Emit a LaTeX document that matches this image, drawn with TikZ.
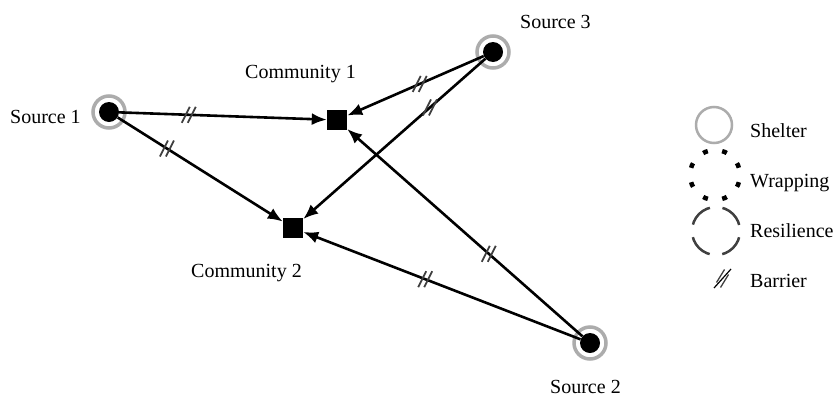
\documentclass[tikz,border=0pt]{standalone}
\usepackage{fontspec}
\setmainfont{Liberation Serif}
\usetikzlibrary{arrows.meta,calc}
\tikzset{
  src/.style={circle, fill=black, minimum size=20pt, inner sep=0pt},
  ring/.style={draw=gray!65, line width=3.5pt},
  comm/.style={rectangle, fill=black, minimum size=20pt, inner sep=0pt},
  link/.style={line width=2.6pt, -{Latex[length=15pt,width=12pt]}},
  lbl/.style={anchor=base west, inner sep=0pt, font=\fontsize{20}{24}\selectfont},
  barrier/.pic={\draw[gray!50!black, line width=1.8pt] (-7,8) -- (1,-8) (-1,8) -- (7,-8);},
  lbarrier/.pic={\draw[gray!50!black, line width=1.3pt] (-6,4) -- (2,-9) (-2,9) -- (6,-4);}
}
\begin{document}
\begin{tikzpicture}[x=1pt,y=-1pt]
\useasboundingbox (0,0) rectangle (834,399);
\fill[white] (0,0) rectangle (834,399);
% sources
\node[src] (s1) at (109,112) {};
\node[src] (s3) at (493,52) {};
\node[src] (s2) at (590,343) {};
\draw[ring] (s1) circle[radius=16];
\draw[ring] (s3) circle[radius=16];
\draw[ring] (s2) circle[radius=16];
% communities
\node[comm] (c1) at (337,120) {};
\node[comm] (c2) at (293,228) {};
% labels
\node[lbl] (ls1) at (10,123) {Source 1};
\node[lbl] (ls3) at (520,28) {Source 3};
\node[lbl] (ls2) at (550,393) {Source 2};
\node[lbl] (lc1) at (245,78) {Community 1};
\node[lbl] (lc2) at (191,277) {Community 2};
% links
\draw[link] (s1) -- (c1);
\draw[link] (s1) -- (c2);
\draw[link] (s3) -- (c1);
\draw[link] (s3) -- (c2);
\draw[link] (s2) -- (c1);
\draw[link] (s2) -- (c2);
% barriers
\pic at ($(s1)!0.35!(c1)$) {barrier};
\pic at ($(s1)!0.315!(c2)$) {barrier};
\pic at ($(s3)!0.47!(c1)$) {barrier};
\pic at ($(s3)!0.315!(c2)$) {barrier};
\pic at ($(s2)!0.40!(c1)$) {barrier};
\pic at ($(s2)!0.555!(c2)$) {barrier};
% legend
\draw[draw=gray!65, line width=2.5pt] (714,125) circle[radius=18];
\draw[black, line width=4.5pt, dash pattern=on 5pt off 14.6pt, dash phase=12.3pt] (715,175) circle[radius=25];
\draw[black!75, line width=2.5pt, dash pattern=on 25pt off 12.7pt, dash phase=31.35pt] (716,231) circle[radius=24];
\coordinate (bl1) at (714,288);
\coordinate (bl2) at (731,269);
\draw[black, line width=1.2pt] (bl1) -- (bl2);
\pic at ($(bl1)!0.5!(bl2)$) {lbarrier};
\node[lbl] (lsh) at (750,137) {Shelter};
\node[lbl] (lwr) at (750,187) {Wrapping};
\node[lbl] (lre) at (750,237) {Resilience};
\node[lbl] (lba) at (750,287) {Barrier};
\end{tikzpicture}
\end{document}
